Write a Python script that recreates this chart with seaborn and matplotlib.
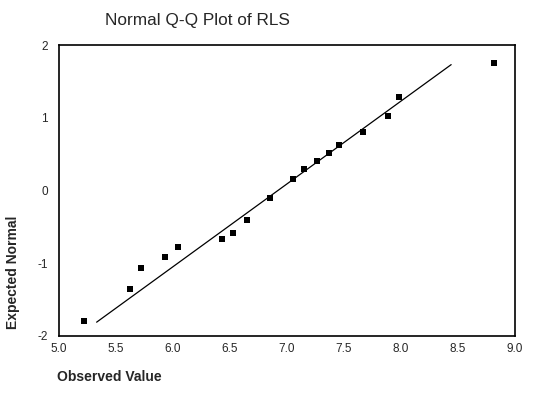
import matplotlib
matplotlib.use("Agg")
import matplotlib.pyplot as plt
import pandas as pd
import seaborn as sns

observed = [5.22, 5.62, 5.72, 5.93, 6.04, 6.43, 6.53, 6.65, 6.85,
            7.05, 7.15, 7.26, 7.37, 7.46, 7.67, 7.89, 7.98, 8.82]
expected = [-1.80, -1.35, -1.07, -0.92, -0.78, -0.66, -0.58, -0.41, -0.10,
            0.16, 0.30, 0.40, 0.52, 0.62, 0.81, 1.03, 1.29, 1.75]

# reference line endpoints
line_x = [5.33, 8.44]
line_y = [-1.81, 1.73]

x_ticks = [5.0, 5.5, 6.0, 6.5, 7.0, 7.5, 8.0, 8.5, 9.0]
y_ticks = [-2, -1, 0, 1, 2]

sns.set_style("white")
plt.rcParams["font.family"] = ["Liberation Sans", "DejaVu Sans"]

points = pd.DataFrame({"observed": observed, "expected": expected})
ref = pd.DataFrame({"x": line_x, "y": line_y})

fig = plt.figure(figsize=(5.38, 3.98), dpi=100)
ax = fig.add_axes([59 / 538, 1 - 336 / 398, (515 - 59) / 538, (336 - 45) / 398])

sns.lineplot(data=ref, x="x", y="y", color="black", linewidth=0.9, ax=ax)
sns.scatterplot(data=points, x="observed", y="expected", marker="s", s=15,
                color="black", edgecolor="black", linewidth=0, ax=ax, zorder=3)

ax.set_xlim(5.0, 9.0)
ax.set_ylim(-2, 2)
ax.set_xticks(x_ticks)
ax.set_xticklabels([f"{t:.1f}" for t in x_ticks])
ax.set_yticks(y_ticks)
ax.set_yticklabels([str(t) for t in y_ticks])
ax.tick_params(axis="both", labelsize=8.5, length=3, width=1.2, direction="in",
               color="black")
ax.tick_params(axis="x", pad=5)
ax.tick_params(axis="y", pad=8)
for spine in ax.spines.values():
    spine.set_color("black")
    spine.set_linewidth(1.2)

ax.set_xlabel("")
ax.set_ylabel("")
fig.text(105 / 538, 1 - 20 / 398, "Normal Q-Q Plot of RLS", fontsize=12.4,
         ha="left", va="center")
fig.text(57 / 538, 1 - 377 / 398, "Observed Value", fontsize=10,
         fontweight="bold", ha="left", va="center")
fig.text(13 / 538, 1 - 272 / 398, "Expected Normal", fontsize=10,
         fontweight="bold", rotation=90, ha="center", va="center")

fig.savefig("out.png", dpi=100, facecolor="white")
